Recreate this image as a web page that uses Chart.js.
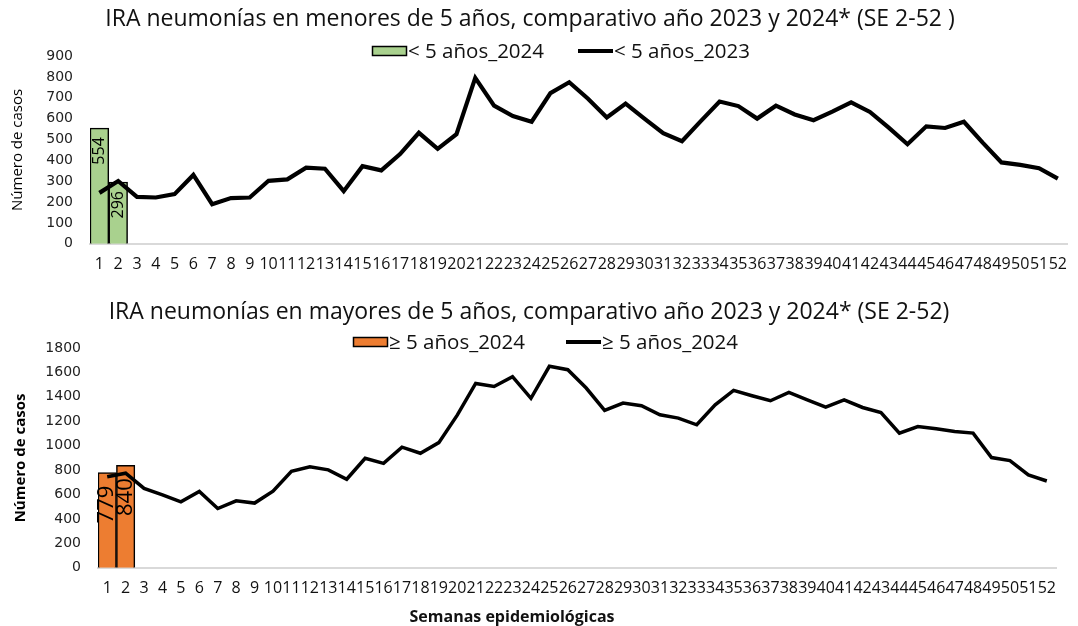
<!DOCTYPE html>
<html>
<head>
<meta charset="utf-8">
<script src="https://cdn.jsdelivr.net/npm/chart.js@4.4.1/dist/chart.umd.min.js"></script>
<style>
  body { margin: 0; background: #fff; }
  canvas { position: absolute; left: 0; }
  #top { top: 0; }
  #bottom { top: 285px; }
</style>
</head>
<body>
<canvas id="top" width="1078" height="285"></canvas>
<canvas id="bottom" width="1078" height="341"></canvas>
<script>
var weeks = ['1','2','3','4','5','6','7','8','9','10','11','12','13','14','15','16','17','18','19','20',
  '21','22','23','24','25','26','27','28','29','30','31','32','33','34','35','36','37','38','39','40',
  '41','42','43','44','45','46','47','48','49','50','51','52'];

// menores de 5 años
var under5_2024 = [554, 296];
var under5_2023 = [244, 301, 225, 222, 238, 330, 190, 219, 222, 302, 309, 365, 360, 252, 372, 352,
  430, 532, 455, 525, 795, 662, 612, 585, 722, 774, 695, 605, 672, 600, 530, 492, 588, 682, 660,
  600, 662, 620, 592, 633, 678, 632, 557, 477, 563, 555, 585, 485, 390, 378, 362, 312];

// mayores de 5 años
var over5_2024 = [779, 840];
var over5_line = [745, 775, 650, 598, 540, 625, 485, 548, 530, 628, 790, 828, 802, 725, 897, 855,
  988, 938, 1025, 1250, 1510, 1485, 1565, 1388, 1650, 1622, 1472, 1289, 1349, 1327, 1253, 1226,
  1171, 1335, 1453, 1409, 1368, 1436, 1376, 1316, 1376, 1313, 1272, 1103, 1157, 1138, 1116, 1103,
  903, 878, 761, 711];

var ticks_under5 = [0, 900, 100];
var ticks_over5 = [0, 1800, 200];

var txt = '#111';

// titulo, leyenda y titulo del eje x dibujados a mano para poder ubicarlos
var decor = {
  id: 'decor',
  afterDraw: function(chart, args, o) {
    var ctx = chart.ctx;
    ctx.save();
    ctx.textBaseline = 'middle';
    ctx.textAlign = 'center';
    ctx.fillStyle = txt;
    ctx.font = o.titleFont;
    ctx.fillText(o.title, o.titleX, o.titleY);

    chart.data.datasets.forEach(function(ds, i) {
      var x = o.legendX[i], y = o.legendY;
      if (ds.type === 'line') {
        ctx.strokeStyle = ds.borderColor;
        ctx.lineWidth = 4;
        ctx.beginPath();
        ctx.moveTo(x, y);
        ctx.lineTo(x + 35, y);
        ctx.stroke();
      } else {
        ctx.fillStyle = ds.backgroundColor;
        ctx.fillRect(x, y - 4, 35, 8);
        ctx.strokeStyle = '#000';
        ctx.lineWidth = 1.5;
        ctx.strokeRect(x + 0.5, y - 4.5, 34, 9);
      }
      ctx.fillStyle = txt;
      ctx.textAlign = 'left';
      ctx.font = o.legendFont;
      ctx.fillText(ds.label, x + 36, y + 1);
    });

    if (o.xTitle) {
      ctx.textAlign = 'center';
      ctx.font = o.xTitleFont;
      ctx.fillText(o.xTitle, o.xTitleX, o.xTitleY);
    }
    ctx.restore();
  }
};

// etiquetas verticales dentro de las barras
var barLabels = {
  id: 'barLabels',
  afterDatasetsDraw: function(chart, args, o) {
    var meta = chart.getDatasetMeta(0);
    var vals = chart.data.datasets[0].data;
    var ctx = chart.ctx;
    ctx.save();
    ctx.font = o.font;
    ctx.fillStyle = '#000';
    ctx.textAlign = 'right';
    ctx.textBaseline = 'middle';
    meta.data.forEach(function(bar, i) {
      if (vals[i] == null) return;
      ctx.save();
      ctx.translate(bar.x, bar.y + o.offset);
      ctx.rotate(-Math.PI / 2);
      ctx.fillText(String(vals[i]), 0, 0);
      ctx.restore();
    });
    ctx.restore();
  }
};

function makeChart(id, s) {
  return new Chart(document.getElementById(id), {
    type: 'bar',
    data: {
      labels: weeks,
      datasets: [{
        label: s.barLabel,
        data: s.bars,
        backgroundColor: s.barColor,
        borderColor: '#000',
        borderWidth: 1.5,
        barPercentage: 1,
        categoryPercentage: 1,
        order: 2
      }, {
        type: 'line',
        label: s.lineLabel,
        data: s.line,
        borderColor: '#000',
        backgroundColor: '#000',
        borderWidth: s.lineWidth,
        pointRadius: 0,
        tension: 0,
        order: 1
      }]
    },
    options: {
      responsive: false,
      animation: false,
      devicePixelRatio: 1,
      layout: { padding: { top: s.padTop, bottom: s.padBottom, left: 0, right: s.padRight } },
      plugins: {
        legend: { display: false },
        title: { display: false },
        tooltip: { enabled: false },
        decor: s.decor,
        barLabels: s.barText
      },
      scales: {
        x: {
          grid: { display: false, drawTicks: false },
          border: { display: true, color: '#d9d9d9', width: 2 },
          ticks: {
            autoSkip: false, maxRotation: 0, minRotation: 0,
            padding: 11, color: txt,
            font: { family: 'Open Sans', size: 16 }
          }
        },
        y: {
          min: s.ticks[0],
          max: s.ticks[1],
          grid: { display: false, drawTicks: false },
          border: { display: false },
          ticks: {
            stepSize: s.ticks[2], padding: 17, color: '#222',
            font: { family: 'DejaVu Sans', size: 14 },
            callback: function(v) { return String(v); }
          },
          title: {
            display: true,
            text: 'Número de casos',
            color: '#000',
            padding: { top: s.yTitlePad, bottom: 0 },
            font: s.yTitleFont
          },
          afterFit: function(scale) { scale.width = s.yWidth; }
        }
      }
    },
    plugins: [decor, barLabels]
  });
}

makeChart('top', {
  barLabel: '< 5 años_2024',
  lineLabel: '< 5 años_2023',
  bars: under5_2024,
  line: under5_2023,
  barColor: '#A9D18E',
  lineWidth: 4.2,
  ticks: ticks_under5,
  padTop: 56,
  padBottom: 0,
  padRight: 0,
  yWidth: 90,
  yTitlePad: 9,
  yTitleFont: { family: 'Open Sans', size: 15 },
  barText: { font: '16px "Open Sans"', offset: 9 },
  decor: {
    title: 'IRA neumonías en menores de 5 años, comparativo año 2023 y 2024* (SE 2-52 )',
    titleFont: '23px "Open Sans"', titleX: 530, titleY: 19,
    legendFont: '20.5px "Open Sans"', legendX: [372, 578], legendY: 51
  }
});

makeChart('bottom', {
  barLabel: '≥ 5 años_2024',
  lineLabel: '≥ 5 años_2024',
  bars: over5_2024,
  line: over5_line,
  barColor: '#ED7D31',
  lineWidth: 3.5,
  ticks: ticks_over5,
  padTop: 63,
  padBottom: 17,
  padRight: 22,
  yWidth: 98,
  yTitlePad: 12,
  yTitleFont: { family: 'Open Sans', size: 15, weight: 'bold' },
  barText: { font: '22px "Open Sans"', offset: 13 },
  decor: {
    title: 'IRA neumonías en mayores de 5 años, comparativo año 2023 y 2024* (SE 2-52)',
    titleFont: '23px "Open Sans"', titleX: 529, titleY: 27,
    legendFont: '20.5px "Open Sans"', legendX: [353, 566], legendY: 57,
    xTitle: 'Semanas epidemiológicas',
    xTitleFont: 'bold 16px "Open Sans"', xTitleX: 512, xTitleY: 332
  }
});
</script>
</body>
</html>
